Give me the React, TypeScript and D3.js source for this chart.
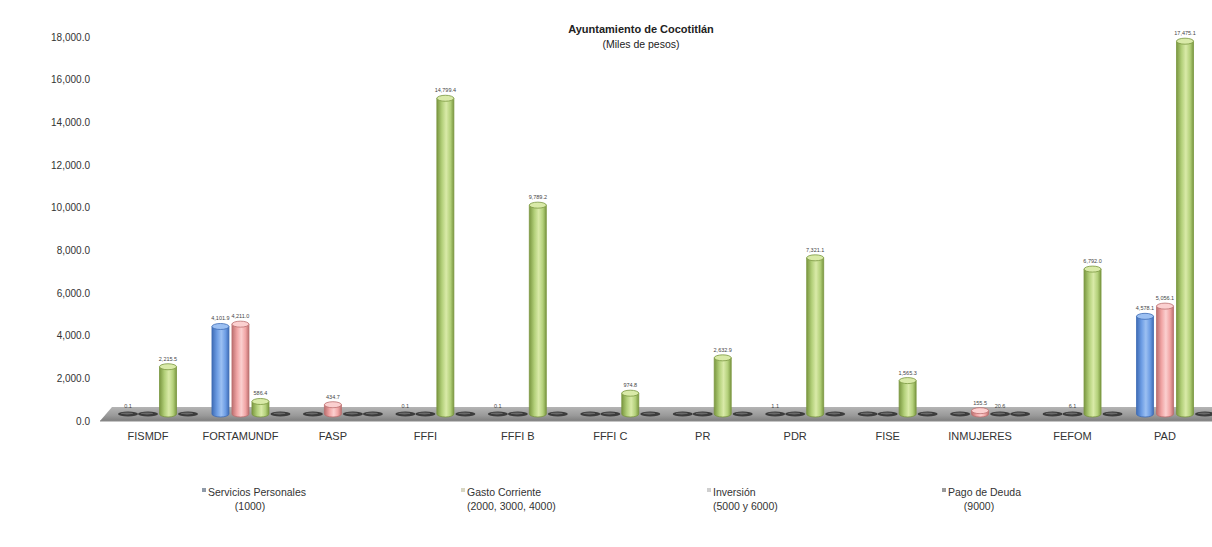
import React from "react";
import * as d3 from "d3";

const categories = ["FISMDF", "FORTAMUNDF", "FASP", "FFFI", "FFFI B", "FFFI C", "PR", "PDR", "FISE", "INMUJERES", "FEFOM", "PAD"];
const serviciosPersonales = [0.1, 4101.9, 0, 0.1, 0.1, 0, 0, 1.1, 0, 0, 0, 4578.1];
const gastoCorriente = [0, 4211.0, 434.7, 0, 0, 0, 0, 0, 0, 155.5, 6.1, 5056.1];
const inversion = [2215.5, 586.4, 0, 14799.4, 9789.2, 974.8, 2632.9, 7321.1, 1565.3, 20.6, 6792.0, 17475.1];
const pagoDeuda = [0, 0, 0, 0, 0, 0, 0, 0, 0, 0, 0, 0];
const yTicks = [0, 2000, 4000, 6000, 8000, 10000, 12000, 14000, 16000, 18000];
const seriesNames = ["Servicios Personales", "Gasto Corriente", "Inversión", "Pago de Deuda"];
const seriesCodes = ["(1000)", "(2000, 3000, 4000)", "(5000 y 6000)", "(9000)"];

const W = 1212, H = 547;
const FONT = "'Liberation Sans Narrow', 'Liberation Sans', Arial, sans-serif";
const fills = [
  { light: "#9cc0f2", mid: "#6d9de4", dark: "#3f6cb5" },
  { light: "#fbd0d0", mid: "#f1a5a5", dark: "#bb6f6f" },
  { light: "#d9eaa8", mid: "#b3d07a", dark: "#7a9740" },
  { light: "#b8a6d0", mid: "#8d73b0", dark: "#5a457a" },
];
const legendMarks = ["#8f9aa8", "#d8d6c2", "#cfcfcf", "#9a9a9a"];

export default function App() {
  const series = [serviciosPersonales, gastoCorriente, inversion, pagoDeuda];
  const x = d3.scalePoint<string>().domain(categories).range([148, 1165]);
  const yAxis = d3.scaleLinear().domain([0, 18000]).range([421, 37]);
  const depthY = 7;
  const slotOffsets = [-20, 0, 20, 40];
  const yb = (v: number) => yAxis(v) - depthY;
  const fmt = d3.format(",.1f");
  const bw = 17;
  const ry = 3;

  const bars: React.ReactNode[] = [];
  const labels: React.ReactNode[] = [];
  categories.forEach((c, ci) => {
    series.forEach((s, si) => {
      const v = s[ci];
      const cx = (x(c) as number) + slotOffsets[si];
      const base = yb(0);
      const top = yb(v);
      if (base - top < 2) {
        bars.push(
          <g key={`d${ci}-${si}`}>
            <ellipse cx={cx} cy={base} rx={10} ry={2.6} fill="#3c3c3c" />
            <ellipse cx={cx - 1} cy={base - 0.6} rx={6} ry={1} fill="#6a6a6a" />
          </g>
        );
      } else {
        bars.push(
          <g key={`b${ci}-${si}`}>
            <path
              d={`M${cx - bw / 2},${top} L${cx - bw / 2},${base} A${bw / 2},${ry} 0 0 0 ${cx + bw / 2},${base} L${cx + bw / 2},${top} Z`}
              fill={`url(#grad${si})`}
              stroke={fills[si].dark}
              strokeWidth={0.8}
            />
            <ellipse cx={cx} cy={top} rx={bw / 2} ry={ry} fill={fills[si].light} stroke={fills[si].dark} strokeWidth={0.8} />
          </g>
        );
      }
      if (v > 0) {
        labels.push(
          <text key={`l${ci}-${si}`} x={cx} y={Math.min(top, base) - 6} textAnchor="middle" fontSize={5.5} fill="#444" fontFamily={FONT}>
            {fmt(v)}
          </text>
        );
      }
    });
  });

  const legendX = [207, 466, 712, 947];

  return (
    <svg width={W} height={H} style={{ position: "absolute", left: 0, top: 0, background: "#fff" }} fontFamily={FONT}>
      <defs>
        {fills.map((f, i) => (
          <linearGradient key={i} id={`grad${i}`} x1="0" x2="1" y1="0" y2="0">
            <stop offset="0" stopColor={f.dark} />
            <stop offset="0.3" stopColor={f.mid} />
            <stop offset="0.55" stopColor={f.light} />
            <stop offset="0.8" stopColor={f.mid} />
            <stop offset="1" stopColor={f.dark} />
          </linearGradient>
        ))}
        <linearGradient id="floor" x1="0" x2="0" y1="0" y2="1">
          <stop offset="0" stopColor="#b4b4b4" />
          <stop offset="0.6" stopColor="#9a9a9a" />
          <stop offset="1" stopColor="#7e7e7e" />
        </linearGradient>
      </defs>
      <polygon points={`100,${yAxis(0)} 1230,${yAxis(0)} 1240,${yAxis(0) - 14} 112,${yAxis(0) - 14}`} fill="url(#floor)" />
      <line x1={100} x2={1212} y1={yAxis(0)} y2={yAxis(0)} stroke="#8a8a8a" strokeWidth={1} />
      {bars}
      {labels}
      {yTicks.map((t) => (
        <text key={t} x={90} y={yAxis(t) + 3.5} textAnchor="end" fontSize={10} fill="#333">
          {fmt(t)}
        </text>
      ))}
      {categories.map((c) => (
        <text key={c} x={x(c) as number} y={440} textAnchor="middle" fontSize={11} fill="#333">
          {c}
        </text>
      ))}
      <text x={641} y={33} textAnchor="middle" fontSize={11} fontWeight="bold" fill="#222">
        Ayuntamiento de  Cocotitlán
      </text>
      <text x={641} y={48} textAnchor="middle" fontSize={10.5} fill="#222">
        (Miles de pesos)
      </text>
      {seriesNames.map((n, i) => (
        <g key={n}>
          <rect x={legendX[i] - 5} y={488} width={4} height={4} fill={legendMarks[i]} />
          <text x={legendX[i] + 1} y={496} fontSize={10.5} fill="#333">{n}</text>
          <text x={legendX[i] + 1 + (i === 0 ? 42 : i === 3 ? 31 : 0)} y={510} textAnchor={i === 0 || i === 3 ? "middle" : "start"} fontSize={10.5} fill="#333">
            {seriesCodes[i]}
          </text>
        </g>
      ))}
    </svg>
  );
}
